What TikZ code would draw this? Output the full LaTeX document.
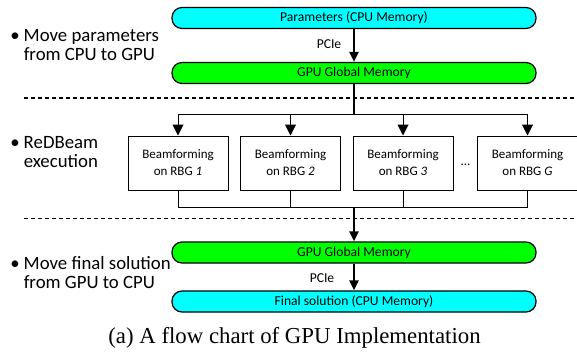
\documentclass[tikz,border=0pt]{standalone}
\usepackage{fontspec}
\setmainfont{Carlito}
\newfontfamily\capfont{Liberation Serif}
\usetikzlibrary{arrows.meta}

\definecolor{cpucyan}{RGB}{0,255,255}
\definecolor{gpugreen}{RGB}{0,255,0}

\tikzset{
    pill/.style={draw, line width=0.6pt, rounded corners=5pt, minimum width=182pt, minimum height=10.5pt, inner sep=0pt, font=\fontsize{6.8}{7}\selectfont},
    bfbox/.style={draw, line width=0.5pt, minimum width=50pt, minimum height=27pt, inner sep=0pt, align=center, font=\fontsize{6.5}{8.5}\selectfont},
    step label/.style={anchor=west, inner sep=0pt, font=\fontsize{9.4}{9.6}\selectfont},
    thick arrow/.style={-{Triangle[width=4.5pt,length=5pt]}, line width=1.1pt},
    thin arrow/.style={-{Triangle[width=5.5pt,length=5.5pt]}, line width=0.5pt},
    stage line/.style={line width=0.5pt, dash pattern=on 2pt off 1.5pt}
}

\begin{document}
\begin{tikzpicture}[x=0.5pt, y=-0.5pt]
            \useasboundingbox (0,0) rectangle (577,353);

            % memory on the host and the device
            \node[pill, fill=cpucyan] (params) at (354,18) {Parameters (CPU Memory)};
            \node[pill, fill=gpugreen] (gpuin) at (354,73) {GPU Global Memory};
            \node[pill, fill=gpugreen] (gpuout) at (354,252.5) {GPU Global Memory};
            \node[pill, fill=cpucyan] (final) at (354,301.5) {Final solution (CPU Memory)};

            \draw[thick arrow] (params) -- (gpuin);
            \node[font=\fontsize{6.8}{7}\selectfont] (pciein) at (329,44) {PCIe};
            \draw[thick arrow] (gpuout) -- (final);
            \node[font=\fontsize{6.8}{7}\selectfont] (pcieout) at (322,278) {PCIe};

            % one beamforming per RBG
            \node[bfbox] (bf1) at (178,163) {Beamforming\\on RBG \textit{1}};
            \node[bfbox] (bf2) at (290.5,163) {Beamforming\\on RBG \textit{2}};
            \node[bfbox] (bf3) at (403,163) {Beamforming\\on RBG \textit{3}};
            \node[bfbox] (bfG) at (527.5,163) {Beamforming\\on RBG \textit{G}};
            \node[font=\fontsize{6.5}{7}\selectfont] (dots) at (465.5,165) {...};

            \coordinate (split) at (354,114);
            \coordinate (join) at (354,207);

            \draw[line width=0.6pt] (gpuin) -- (split);
            \draw[thin arrow] (split) -| (bf1);
            \draw[thin arrow] (split) -| (bf2);
            \draw[thin arrow] (split) -| (bf3);
            \draw[thin arrow] (split) -| (bfG);

            \draw[line width=0.5pt] (bf1) |- (join);
            \draw[line width=0.5pt] (bf2) |- (join);
            \draw[line width=0.5pt] (bf3) |- (join);
            \draw[line width=0.5pt] (bfG) |- (join);
            \draw[thick arrow] (join) -- (gpuout);

            % stages
            \draw[stage line] (24,98) -- (577,98);
            \draw[stage line] (24,218) -- (577,218);

            \node[step label] (stage1) at (10,47.5) {\begin{tabular}{@{}l@{\hspace{2pt}}l@{}}•&Move parameters\\&from CPU to GPU\end{tabular}};
            \node[step label] (stage2) at (10,154.5) {\begin{tabular}{@{}l@{\hspace{2pt}}l@{}}•&ReDBeam\\&execution\end{tabular}};
            \node[step label] (stage3) at (10,275.5) {\begin{tabular}{@{}l@{\hspace{2pt}}l@{}}•&Move final solution\\&from GPU to CPU\end{tabular}};

            \node[font=\capfont\fontsize{11.4}{12}\selectfont] (caption) at (294.5,338) {(a) A flow chart of GPU Implementation};
        \end{tikzpicture}
\end{document}
